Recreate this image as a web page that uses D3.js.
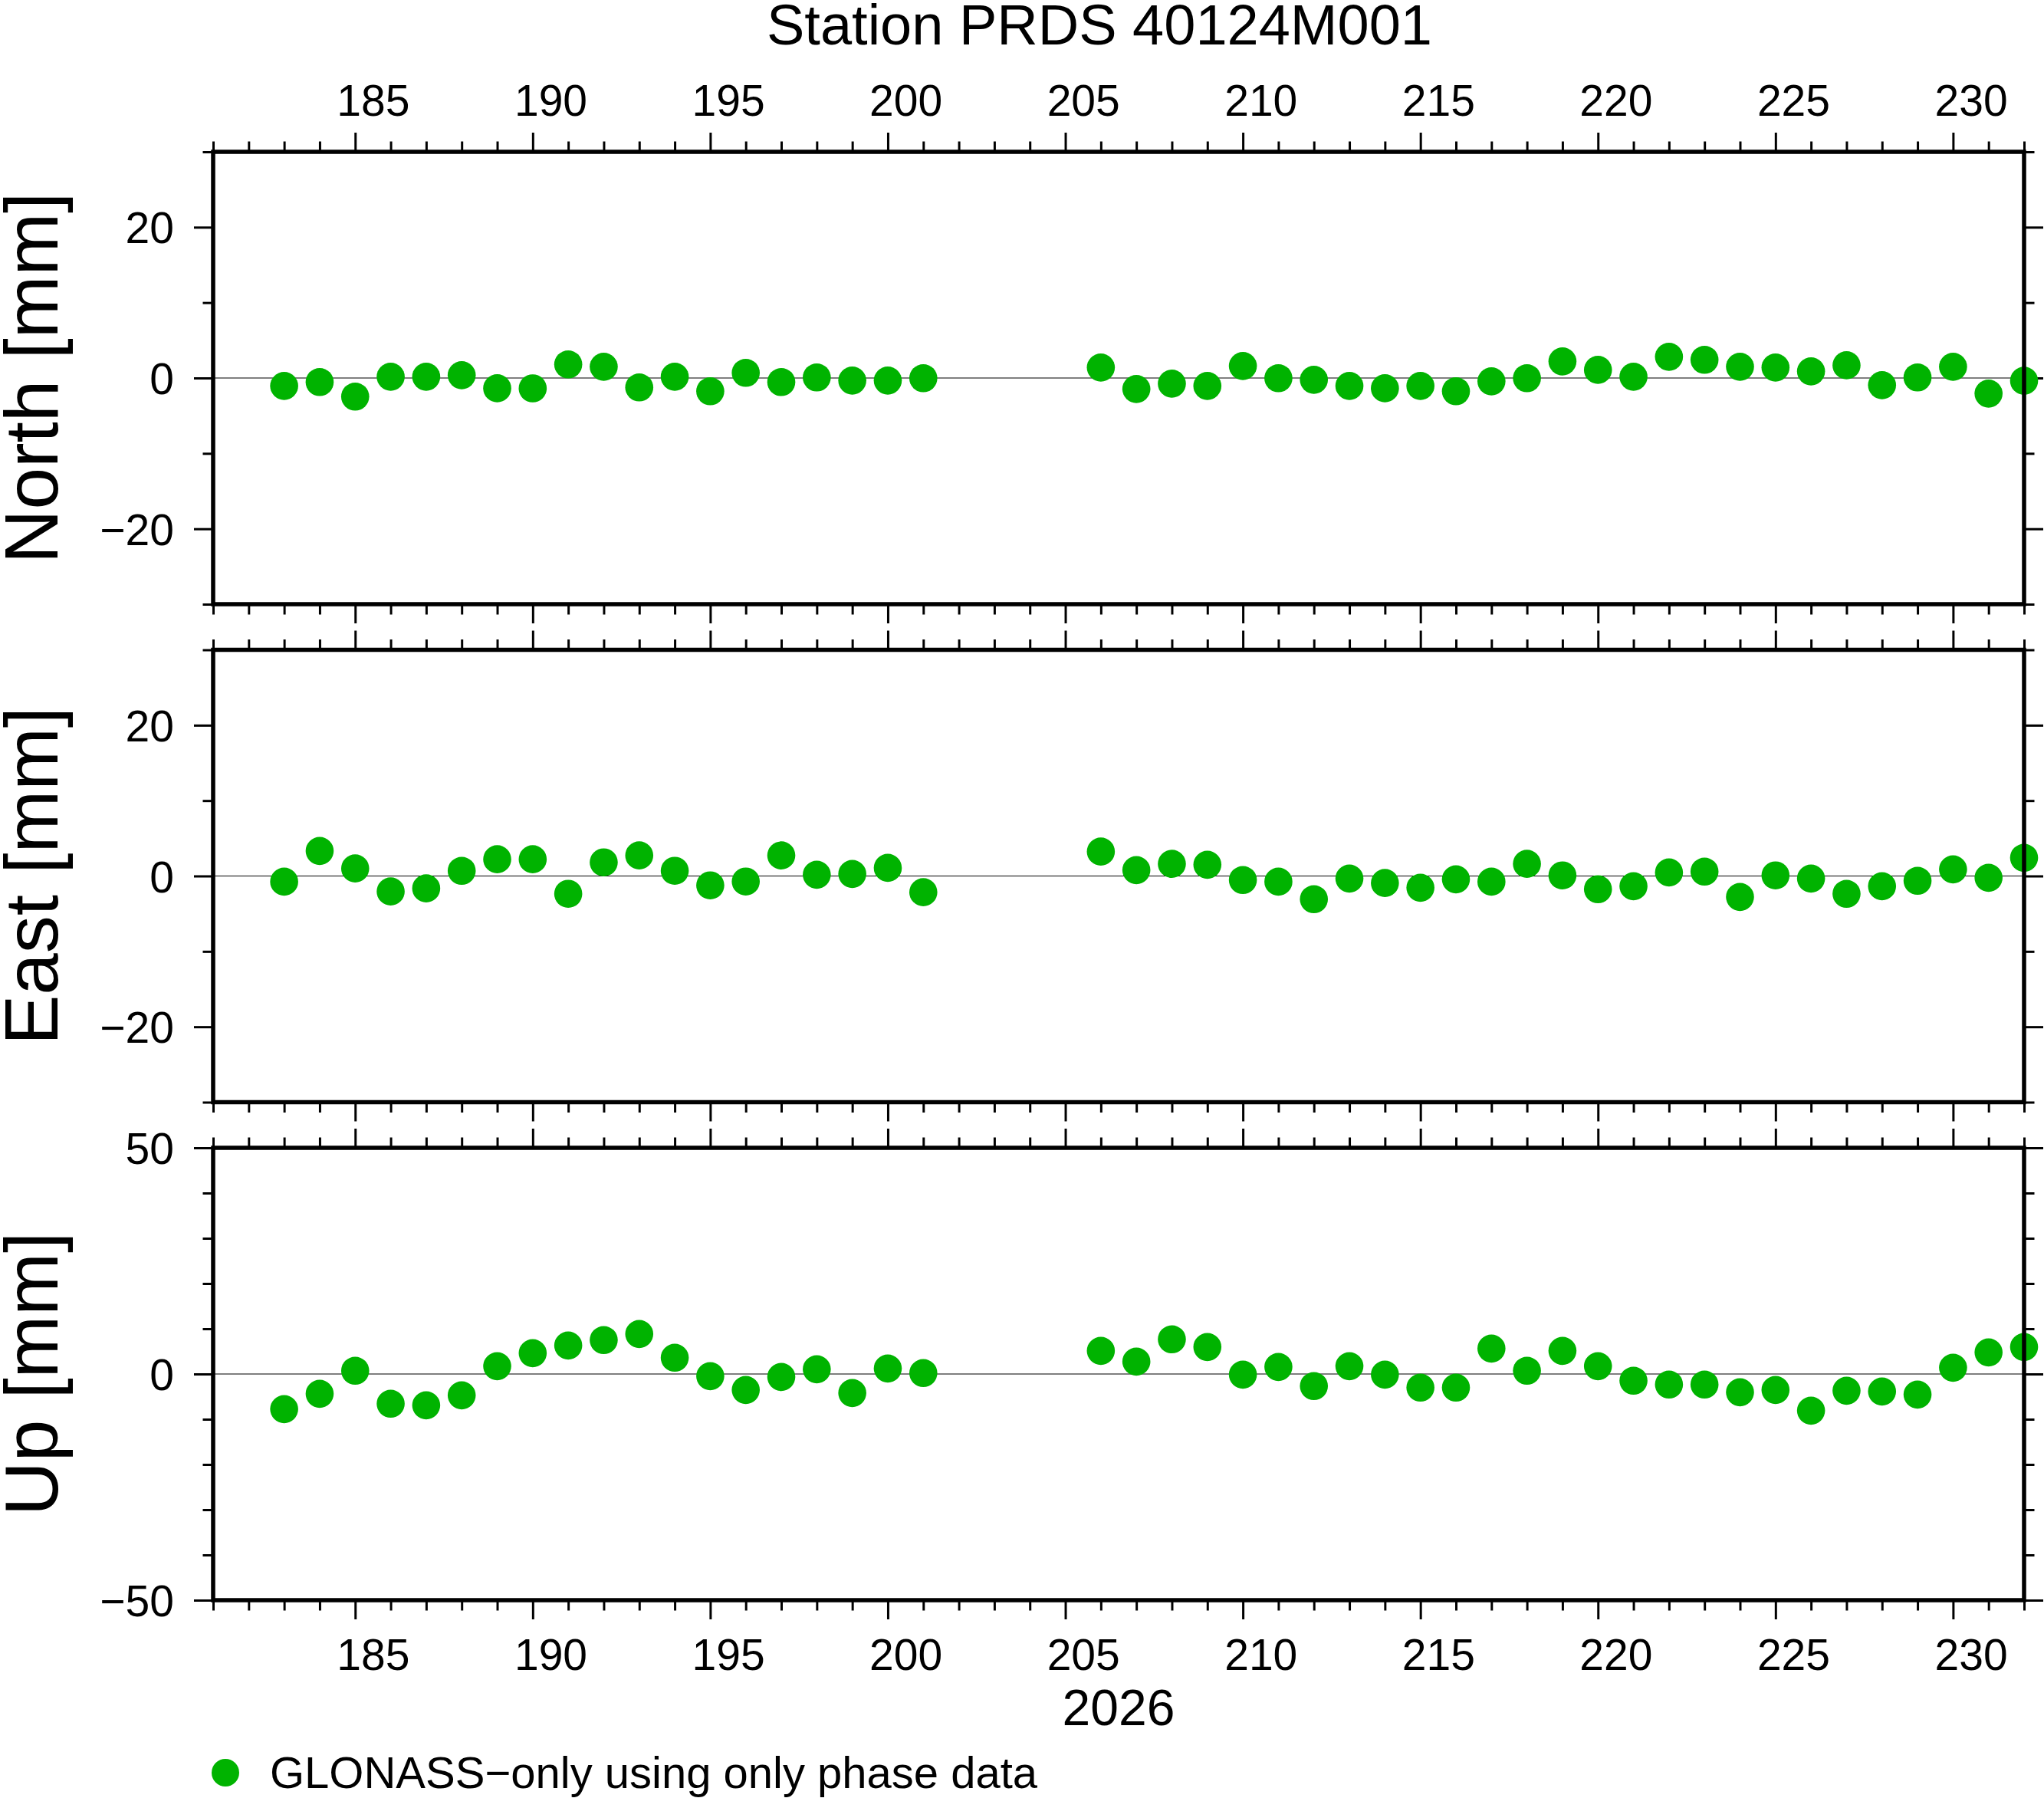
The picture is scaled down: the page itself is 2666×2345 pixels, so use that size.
<!DOCTYPE html>
<html>
<head>
<meta charset="utf-8">
<script src="https://cdn.jsdelivr.net/npm/d3@7"></script>
<style>
html,body{margin:0;padding:0;background:#fff;}
svg{display:block;}
text{font-family:"Liberation Sans",Arial,Helvetica,sans-serif;fill:#000;}
</style>
</head>
<body>
<script>
// ---- data ----
const title = "Station PRDS 40124M001";
const yearLabel = "2026";
const legendLabel = "GLONASS\u2212only using only phase data";
const panelNames = ["North [mm]", "East [mm]", "Up [mm]"];
const days = [183,184,185,186,187,188,189,190,191,192,193,194,195,196,197,198,199,200,201,
              206,207,208,209,210,211,212,213,214,215,216,217,218,219,220,221,222,223,224,225,226,227,228,229,230,231,232];
const north = [-1.05,-0.54,-2.47,0.17,0.17,0.37,-1.36,-1.37,1.8,1.49,-1.25,0.17,-1.76,0.68,-0.54,0.07,-0.34,-0.34,-0.03,
               1.39,-1.46,-0.75,-1.05,1.59,-0.03,-0.24,-1.05,-1.36,-1.05,-1.76,-0.44,-0.03,2.2,1.08,0.17,2.81,2.41,1.49,1.39,0.88,1.69,-0.95,0.07,1.49,-2.07,-0.37];
const east = [-0.75,3.32,1.0,-2.05,-1.64,0.68,2.22,2.22,-2.36,1.81,2.73,0.69,-1.24,-0.73,2.73,0.17,0.27,1.08,-2.15,
              3.24,0.78,1.61,1.49,-0.54,-0.75,-3.08,-0.34,-0.93,-1.56,-0.44,-0.75,1.61,0.08,-1.76,-1.36,0.47,0.58,-2.78,0.08,-0.34,-2.37,-1.36,-0.64,0.88,-0.24,2.41];
const up = [-7.77,-4.38,0.71,-6.58,-6.92,-4.72,1.72,4.6,6.3,7.49,8.84,3.59,-0.48,-3.53,-0.65,1.04,-4.21,1.21,0.2,
            5.11,2.74,7.66,5.96,-0.14,1.55,-2.68,1.72,-0.14,-3.02,-3.02,5.62,0.71,5.11,1.72,-1.49,-2.34,-2.34,-4.04,-3.53,-8.11,-3.7,-3.87,-4.55,1.38,4.77,5.96];
const xDomain = [181, 232];
const xMajorTicks = [185,190,195,200,205,210,215,220,225,230];
const yDomains = [[-30,30],[-30,30],[-50,50]];
const yMajorTicks = [[-20,0,20],[-20,0,20],[-50,0,50]];
const yMinorStep = 10;

// ---- layout ----
const W = 2666, H = 2345;
const left = 278, right = 2640;
const panelTops = [198, 847.5, 1497];
const panelH = 590;
const green = "#00b300";
const frameW = 5.5, tickW = 3, minorLen = 13.5, majorLen = 25;

const svg = d3.select("body").append("svg").attr("width", W).attr("height", H);
svg.append("rect").attr("width", W).attr("height", H).attr("fill", "#fff");

const x = d3.scaleLinear().domain(xDomain).range([left, right]);
const xMinor = d3.range(xDomain[0], xDomain[1] + 1).filter(d => !xMajorTicks.includes(d));

svg.append("text").attr("x", 1434).attr("y", 58).attr("text-anchor", "middle")
  .attr("font-size", 74).text(title);

const series = [north, east, up];

function styleAxis(g) {
  g.select(".domain").remove();
  g.selectAll(".tick line").attr("stroke", "#000").attr("stroke-width", tickW);
}

panelNames.forEach((name, i) => {
  const top = panelTops[i], bottom = top + panelH;
  const y = d3.scaleLinear().domain(yDomains[i]).range([bottom, top]);
  const yMinor = d3.range(yDomains[i][0], yDomains[i][1] + 0.001, yMinorStep).filter(v => !yMajorTicks[i].includes(v));
  const g = svg.append("g");

  // zero line
  g.append("line").attr("x1", left).attr("x2", right).attr("y1", y(0)).attr("y2", y(0))
    .attr("stroke", "#000").attr("stroke-width", 1.2);

  // x ticks top & bottom
  [["top", top, d3.axisTop], ["bottom", bottom, d3.axisBottom]].forEach(([pos, yy, ax]) => {
    const gm = g.append("g").attr("transform", `translate(0,${yy})`)
      .call(ax(x).tickValues(xMinor).tickSize(minorLen).tickFormat(""));
    styleAxis(gm);
    const showLabels = (pos === "top" && i === 0) || (pos === "bottom" && i === 2);
    const gM = g.append("g").attr("transform", `translate(0,${yy})`)
      .call(ax(x).tickValues(xMajorTicks).tickSize(majorLen).tickFormat(showLabels ? d3.format("d") : ""));
    styleAxis(gM);
    gM.selectAll(".tick text")
      .attr("x", d => x(d + 0.5) - x(d))
      .attr("y", pos === "top" ? -47 : 91).attr("dy", 0)
      .attr("font-size", 57).attr("font-family", null).attr("fill", "#000");
  });

  // y ticks left & right
  [["left", left, d3.axisLeft], ["right", right, d3.axisRight]].forEach(([pos, xx, ax]) => {
    const gm = g.append("g").attr("transform", `translate(${xx},0)`)
      .call(ax(y).tickValues(yMinor).tickSize(minorLen).tickFormat(""));
    styleAxis(gm);
    const gM = g.append("g").attr("transform", `translate(${xx},0)`)
      .call(ax(y).tickValues(yMajorTicks[i]).tickSize(majorLen).tickFormat(pos === "left" ? d3.format("d") : ""));
    styleAxis(gM);
    gM.selectAll(".tick text").attr("x", -51).attr("dy", "0.36em")
      .attr("font-size", 57).attr("font-family", null).attr("fill", "#000");
  });

  // points
  g.append("g").selectAll("circle").data(days.map((d, k) => [d, series[i][k]])).join("circle")
    .attr("cx", d => x(d[0])).attr("cy", d => y(d[1])).attr("r", 18.3).attr("fill", green);

  // frame
  g.append("rect").attr("x", left).attr("y", top).attr("width", right - left).attr("height", panelH)
    .attr("fill", "none").attr("stroke", "#000").attr("stroke-width", frameW);

  // y title
  svg.append("text").attr("transform", `translate(75,${top + panelH / 2}) rotate(-90)`)
    .attr("text-anchor", "middle").attr("font-size", 98).text(name);
});

svg.append("text").attr("x", (left + right) / 2).attr("y", 2250).attr("text-anchor", "middle")
  .attr("font-size", 66).text(yearLabel);

svg.append("circle").attr("cx", 294).attr("cy", 2312).attr("r", 18).attr("fill", green);
svg.append("text").attr("x", 352).attr("y", 2332).attr("font-size", 58).text(legendLabel);
</script>
</body>
</html>
